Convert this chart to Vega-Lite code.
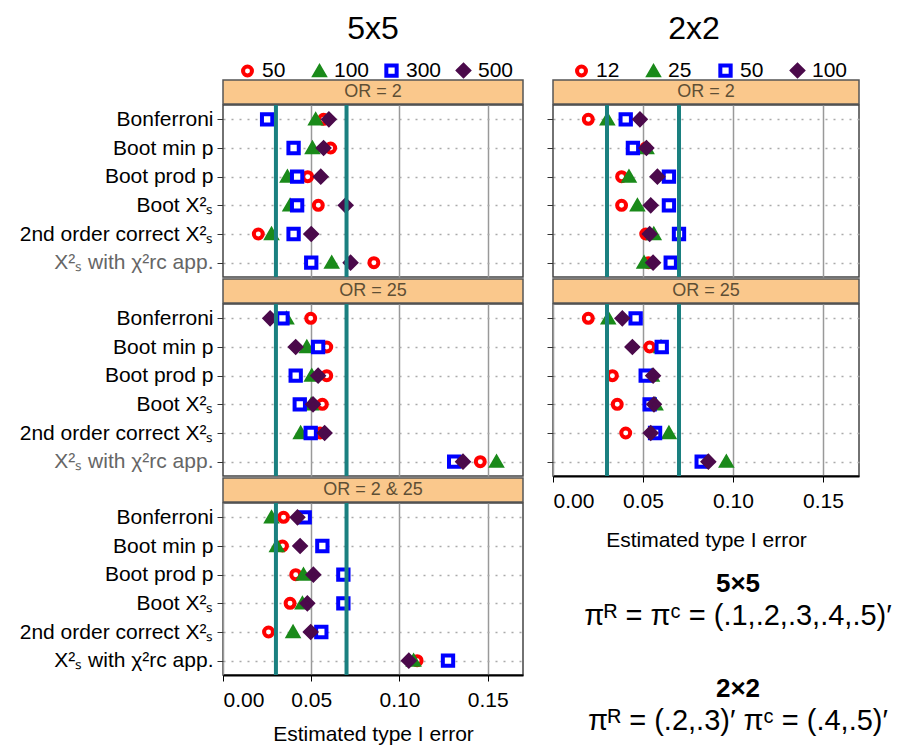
{
  "$schema": "https://vega.github.io/schema/vega-lite/v6.json",
  "background": "white",
  "padding": {"left": 18, "top": 13, "right": 0, "bottom": 0},
  "config": {
    "font": "Liberation Sans",
    "view": {"stroke": "#444", "strokeWidth": 1.5},
    "title": {"fontSize": 32, "fontWeight": "normal", "font": "Liberation Sans", "anchor": "middle", "frame": "group", "color": "black"},
    "legend": {"title": null, "direction": "horizontal", "gridAlign": "all", "labelFontSize": 21, "labelFont": "Liberation Sans", "labelColor": "black", "symbolStrokeWidth": 4, "columnPadding": 8, "labelOffset": 4, "padding": 0, "symbolOffset": 0},
    "axis": {"labelFont": "Liberation Sans", "titleFont": "Liberation Sans"}
  },
  "datasets": {
    "t5": [
      {"OR": "2", "method": "Bonferroni", "n": "50", "err": 0.057},
      {"OR": "2", "method": "Bonferroni", "n": "100", "err": 0.0525},
      {"OR": "2", "method": "Bonferroni", "n": "300", "err": 0.025},
      {"OR": "2", "method": "Bonferroni", "n": "500", "err": 0.060},
      {"OR": "2", "method": "Boot min p", "n": "50", "err": 0.061},
      {"OR": "2", "method": "Boot min p", "n": "100", "err": 0.0507},
      {"OR": "2", "method": "Boot min p", "n": "300", "err": 0.040},
      {"OR": "2", "method": "Boot min p", "n": "500", "err": 0.057},
      {"OR": "2", "method": "Boot prod p", "n": "50", "err": 0.048},
      {"OR": "2", "method": "Boot prod p", "n": "100", "err": 0.0365},
      {"OR": "2", "method": "Boot prod p", "n": "300", "err": 0.042},
      {"OR": "2", "method": "Boot prod p", "n": "500", "err": 0.0554},
      {"OR": "2", "method": "Boot X²ₛ", "n": "50", "err": 0.054},
      {"OR": "2", "method": "Boot X²ₛ", "n": "100", "err": 0.038},
      {"OR": "2", "method": "Boot X²ₛ", "n": "300", "err": 0.042},
      {"OR": "2", "method": "Boot X²ₛ", "n": "500", "err": 0.0695},
      {"OR": "2", "method": "2nd order correct X²ₛ", "n": "50", "err": 0.020},
      {"OR": "2", "method": "2nd order correct X²ₛ", "n": "100", "err": 0.0275},
      {"OR": "2", "method": "2nd order correct X²ₛ", "n": "300", "err": 0.040},
      {"OR": "2", "method": "2nd order correct X²ₛ", "n": "500", "err": 0.050},
      {"OR": "2", "method": "X²ₛ with χ²rc app.", "n": "50", "err": 0.0855},
      {"OR": "2", "method": "X²ₛ with χ²rc app.", "n": "100", "err": 0.0616},
      {"OR": "2", "method": "X²ₛ with χ²rc app.", "n": "300", "err": 0.050},
      {"OR": "2", "method": "X²ₛ with χ²rc app.", "n": "500", "err": 0.0723},
      {"OR": "25", "method": "Bonferroni", "n": "50", "err": 0.0497},
      {"OR": "25", "method": "Bonferroni", "n": "100", "err": 0.036},
      {"OR": "25", "method": "Bonferroni", "n": "300", "err": 0.0337},
      {"OR": "25", "method": "Bonferroni", "n": "500", "err": 0.0267},
      {"OR": "25", "method": "Boot min p", "n": "50", "err": 0.0588},
      {"OR": "25", "method": "Boot min p", "n": "100", "err": 0.0475},
      {"OR": "25", "method": "Boot min p", "n": "300", "err": 0.0539},
      {"OR": "25", "method": "Boot min p", "n": "500", "err": 0.0412},
      {"OR": "25", "method": "Boot prod p", "n": "50", "err": 0.0588},
      {"OR": "25", "method": "Boot prod p", "n": "100", "err": 0.0503},
      {"OR": "25", "method": "Boot prod p", "n": "300", "err": 0.0412},
      {"OR": "25", "method": "Boot prod p", "n": "500", "err": 0.0539},
      {"OR": "25", "method": "Boot X²ₛ", "n": "50", "err": 0.0563},
      {"OR": "25", "method": "Boot X²ₛ", "n": "100", "err": 0.050},
      {"OR": "25", "method": "Boot X²ₛ", "n": "300", "err": 0.0435},
      {"OR": "25", "method": "Boot X²ₛ", "n": "500", "err": 0.051},
      {"OR": "25", "method": "2nd order correct X²ₛ", "n": "50", "err": 0.055},
      {"OR": "25", "method": "2nd order correct X²ₛ", "n": "100", "err": 0.044},
      {"OR": "25", "method": "2nd order correct X²ₛ", "n": "300", "err": 0.0497},
      {"OR": "25", "method": "2nd order correct X²ₛ", "n": "500", "err": 0.0576},
      {"OR": "25", "method": "X²ₛ with χ²rc app.", "n": "50", "err": 0.1458},
      {"OR": "25", "method": "X²ₛ with χ²rc app.", "n": "100", "err": 0.155},
      {"OR": "25", "method": "X²ₛ with χ²rc app.", "n": "300", "err": 0.131},
      {"OR": "25", "method": "X²ₛ with χ²rc app.", "n": "500", "err": 0.136},
      {"OR": "2 & 25", "method": "Bonferroni", "n": "50", "err": 0.0343},
      {"OR": "2 & 25", "method": "Bonferroni", "n": "100", "err": 0.0275},
      {"OR": "2 & 25", "method": "Bonferroni", "n": "300", "err": 0.0463},
      {"OR": "2 & 25", "method": "Bonferroni", "n": "500", "err": 0.0422},
      {"OR": "2 & 25", "method": "Boot min p", "n": "50", "err": 0.0337},
      {"OR": "2 & 25", "method": "Boot min p", "n": "100", "err": 0.0305},
      {"OR": "2 & 25", "method": "Boot min p", "n": "300", "err": 0.0563},
      {"OR": "2 & 25", "method": "Boot min p", "n": "500", "err": 0.0437},
      {"OR": "2 & 25", "method": "Boot prod p", "n": "50", "err": 0.0412},
      {"OR": "2 & 25", "method": "Boot prod p", "n": "100", "err": 0.0456},
      {"OR": "2 & 25", "method": "Boot prod p", "n": "300", "err": 0.0682},
      {"OR": "2 & 25", "method": "Boot prod p", "n": "500", "err": 0.0512},
      {"OR": "2 & 25", "method": "Boot X²ₛ", "n": "50", "err": 0.038},
      {"OR": "2 & 25", "method": "Boot X²ₛ", "n": "100", "err": 0.045},
      {"OR": "2 & 25", "method": "Boot X²ₛ", "n": "300", "err": 0.0682},
      {"OR": "2 & 25", "method": "Boot X²ₛ", "n": "500", "err": 0.0478},
      {"OR": "2 & 25", "method": "2nd order correct X²ₛ", "n": "50", "err": 0.0258},
      {"OR": "2 & 25", "method": "2nd order correct X²ₛ", "n": "100", "err": 0.0397},
      {"OR": "2 & 25", "method": "2nd order correct X²ₛ", "n": "300", "err": 0.0557},
      {"OR": "2 & 25", "method": "2nd order correct X²ₛ", "n": "500", "err": 0.0497},
      {"OR": "2 & 25", "method": "X²ₛ with χ²rc app.", "n": "50", "err": 0.110},
      {"OR": "2 & 25", "method": "X²ₛ with χ²rc app.", "n": "100", "err": 0.108},
      {"OR": "2 & 25", "method": "X²ₛ with χ²rc app.", "n": "300", "err": 0.1275},
      {"OR": "2 & 25", "method": "X²ₛ with χ²rc app.", "n": "500", "err": 0.1053}
    ],
    "t2": [
      {"OR": "2", "method": "Bonferroni", "n": "12", "err": 0.0196},
      {"OR": "2", "method": "Bonferroni", "n": "25", "err": 0.0302},
      {"OR": "2", "method": "Bonferroni", "n": "50", "err": 0.0404},
      {"OR": "2", "method": "Bonferroni", "n": "100", "err": 0.0483},
      {"OR": "2", "method": "Boot min p", "n": "12", "err": 0.0515},
      {"OR": "2", "method": "Boot min p", "n": "25", "err": 0.052},
      {"OR": "2", "method": "Boot min p", "n": "50", "err": 0.0444},
      {"OR": "2", "method": "Boot min p", "n": "100", "err": 0.0519},
      {"OR": "2", "method": "Boot prod p", "n": "12", "err": 0.0381},
      {"OR": "2", "method": "Boot prod p", "n": "25", "err": 0.0422},
      {"OR": "2", "method": "Boot prod p", "n": "50", "err": 0.0644},
      {"OR": "2", "method": "Boot prod p", "n": "100", "err": 0.058},
      {"OR": "2", "method": "Boot X²ₛ", "n": "12", "err": 0.0381},
      {"OR": "2", "method": "Boot X²ₛ", "n": "25", "err": 0.0469},
      {"OR": "2", "method": "Boot X²ₛ", "n": "50", "err": 0.0644},
      {"OR": "2", "method": "Boot X²ₛ", "n": "100", "err": 0.0543},
      {"OR": "2", "method": "2nd order correct X²ₛ", "n": "12", "err": 0.0515},
      {"OR": "2", "method": "2nd order correct X²ₛ", "n": "25", "err": 0.056},
      {"OR": "2", "method": "2nd order correct X²ₛ", "n": "50", "err": 0.070},
      {"OR": "2", "method": "2nd order correct X²ₛ", "n": "100", "err": 0.0537},
      {"OR": "2", "method": "X²ₛ with χ²rc app.", "n": "12", "err": 0.053},
      {"OR": "2", "method": "X²ₛ with χ²rc app.", "n": "25", "err": 0.0506},
      {"OR": "2", "method": "X²ₛ with χ²rc app.", "n": "50", "err": 0.0654},
      {"OR": "2", "method": "X²ₛ with χ²rc app.", "n": "100", "err": 0.0556},
      {"OR": "25", "method": "Bonferroni", "n": "12", "err": 0.0196},
      {"OR": "25", "method": "Bonferroni", "n": "25", "err": 0.0307},
      {"OR": "25", "method": "Bonferroni", "n": "50", "err": 0.0459},
      {"OR": "25", "method": "Bonferroni", "n": "100", "err": 0.0385},
      {"OR": "25", "method": "Boot min p", "n": "12", "err": 0.0537},
      {"OR": "25", "method": "Boot min p", "n": "25", "err": 0.060},
      {"OR": "25", "method": "Boot min p", "n": "50", "err": 0.0604},
      {"OR": "25", "method": "Boot min p", "n": "100", "err": 0.0441},
      {"OR": "25", "method": "Boot prod p", "n": "12", "err": 0.033},
      {"OR": "25", "method": "Boot prod p", "n": "25", "err": 0.055},
      {"OR": "25", "method": "Boot prod p", "n": "50", "err": 0.0515},
      {"OR": "25", "method": "Boot prod p", "n": "100", "err": 0.0556},
      {"OR": "25", "method": "Boot X²ₛ", "n": "12", "err": 0.0357},
      {"OR": "25", "method": "Boot X²ₛ", "n": "25", "err": 0.057},
      {"OR": "25", "method": "Boot X²ₛ", "n": "50", "err": 0.0537},
      {"OR": "25", "method": "Boot X²ₛ", "n": "100", "err": 0.0561},
      {"OR": "25", "method": "2nd order correct X²ₛ", "n": "12", "err": 0.0404},
      {"OR": "25", "method": "2nd order correct X²ₛ", "n": "25", "err": 0.0644},
      {"OR": "25", "method": "2nd order correct X²ₛ", "n": "50", "err": 0.0567},
      {"OR": "25", "method": "2nd order correct X²ₛ", "n": "100", "err": 0.0543},
      {"OR": "25", "method": "X²ₛ with χ²rc app.", "n": "12", "err": 0.085},
      {"OR": "25", "method": "X²ₛ with χ²rc app.", "n": "25", "err": 0.0963},
      {"OR": "25", "method": "X²ₛ with χ²rc app.", "n": "50", "err": 0.0826},
      {"OR": "25", "method": "X²ₛ with χ²rc app.", "n": "100", "err": 0.0863}
    ],
    "limits": [{"limit": 0.03}, {"limit": 0.07}]
  },
  "hconcat": [
    {
      "title": {"text": "5x5", "offset": 14, "dx": 150},
      "spacing": 0,
      "vconcat": [
        {"spacing": -3, "vconcat": [
          {"width": 300, "height": 24, "view": {"fill": "#FAC88C", "stroke": "#555", "strokeWidth": 1.5}, "data": {"values": [{"label": "OR = 2"}]}, "mark": {"type": "text", "fontSize": 18, "color": "#5e4f35"}, "encoding": {"text": {"field": "label"}}},
          {"width": 300, "height": 172, "layer": [
            {"data": {"name": "t5"}, "transform": [{"filter": "datum.OR === '2'"}],
             "mark": {"type": "point", "filled": true, "strokeWidth": 4, "opacity": 1},
             "encoding": {
               "x": {"field": "err", "type": "quantitative", "scale": {"domain": [0, 0.17], "nice": false}, "axis": {"title": null, "labels": false, "ticks": false, "domain": false, "grid": true, "values": [0.05, 0.1, 0.15], "gridColor": "#999", "gridWidth": 1.5}},
               "y": {"field": "method", "type": "nominal", "sort": ["Bonferroni", "Boot min p", "Boot prod p", "Boot X²ₛ", "2nd order correct X²ₛ", "X²ₛ with χ²rc app."], "axis": {"title": null, "labelFontSize": 21, "labelColor": {"condition": {"test": "indexof(datum.value, 'with') >= 0", "value": "#666"}, "value": "black"}, "tickSize": 6, "tickColor": "#333", "domain": false, "grid": true, "gridDash": [2, 6], "gridColor": "#aaa", "gridWidth": 1.5, "labelPadding": 4, "labelLimit": 400}},
               "fill": {"field": "n", "type": "nominal", "scale": {"domain": ["50", "100", "300", "500"], "range": ["#ffffff", "#1a8a1a", "#ffffff", "#4b0a4b"]}, "legend": {"orient": "none", "legendX": 14, "legendY": -20}},
               "stroke": {"field": "n", "type": "nominal", "scale": {"domain": ["50", "100", "300", "500"], "range": ["#ff0000", "#1a8a1a", "#0000ff", "#4b0a4b"]}, "legend": {"orient": "none", "legendX": 14, "legendY": -20}},
               "shape": {"field": "n", "type": "nominal", "scale": {"domain": ["50", "100", "300", "500"], "range": ["circle", "triangle-up", "square", "diamond"]}, "legend": {"orient": "none", "legendX": 14, "legendY": -20}},
               "size": {"field": "n", "type": "nominal", "scale": {"domain": ["50", "100", "300", "500"], "range": [80, 120, 80, 120]}, "legend": {"orient": "none", "legendX": 14, "legendY": -20}}
             }},
            {"data": {"name": "limits"}, "mark": {"type": "rule", "color": "#1a8080", "strokeWidth": 4, "clip": true}, "encoding": {"x": {"field": "limit", "type": "quantitative"}}}
          ]}
        ]},
        {"spacing": -3, "vconcat": [
          {"width": 300, "height": 24, "view": {"fill": "#FAC88C", "stroke": "#555", "strokeWidth": 1.5}, "data": {"values": [{"label": "OR = 25"}]}, "mark": {"type": "text", "fontSize": 18, "color": "#5e4f35"}, "encoding": {"text": {"field": "label"}}},
          {"width": 300, "height": 172, "layer": [
            {"data": {"name": "t5"}, "transform": [{"filter": "datum.OR === '25'"}],
             "mark": {"type": "point", "filled": true, "strokeWidth": 4, "opacity": 1},
             "encoding": {
               "x": {"field": "err", "type": "quantitative", "scale": {"domain": [0, 0.17], "nice": false}, "axis": {"title": null, "labels": false, "ticks": false, "domain": false, "grid": true, "values": [0.05, 0.1, 0.15], "gridColor": "#999", "gridWidth": 1.5}},
               "y": {"field": "method", "type": "nominal", "sort": ["Bonferroni", "Boot min p", "Boot prod p", "Boot X²ₛ", "2nd order correct X²ₛ", "X²ₛ with χ²rc app."], "axis": {"title": null, "labelFontSize": 21, "labelColor": {"condition": {"test": "indexof(datum.value, 'with') >= 0", "value": "#666"}, "value": "black"}, "tickSize": 6, "tickColor": "#333", "domain": false, "grid": true, "gridDash": [2, 6], "gridColor": "#aaa", "gridWidth": 1.5, "labelPadding": 4, "labelLimit": 400}},
               "fill": {"field": "n", "type": "nominal", "scale": {"domain": ["50", "100", "300", "500"], "range": ["#ffffff", "#1a8a1a", "#ffffff", "#4b0a4b"]}, "legend": {"orient": "none", "legendX": 14, "legendY": -20}},
               "stroke": {"field": "n", "type": "nominal", "scale": {"domain": ["50", "100", "300", "500"], "range": ["#ff0000", "#1a8a1a", "#0000ff", "#4b0a4b"]}, "legend": {"orient": "none", "legendX": 14, "legendY": -20}},
               "shape": {"field": "n", "type": "nominal", "scale": {"domain": ["50", "100", "300", "500"], "range": ["circle", "triangle-up", "square", "diamond"]}, "legend": {"orient": "none", "legendX": 14, "legendY": -20}},
               "size": {"field": "n", "type": "nominal", "scale": {"domain": ["50", "100", "300", "500"], "range": [80, 120, 80, 120]}, "legend": {"orient": "none", "legendX": 14, "legendY": -20}}
             }},
            {"data": {"name": "limits"}, "mark": {"type": "rule", "color": "#1a8080", "strokeWidth": 4, "clip": true}, "encoding": {"x": {"field": "limit", "type": "quantitative"}}}
          ]}
        ]},
        {"spacing": -3, "vconcat": [
          {"width": 300, "height": 24, "view": {"fill": "#FAC88C", "stroke": "#555", "strokeWidth": 1.5}, "data": {"values": [{"label": "OR = 2 & 25"}]}, "mark": {"type": "text", "fontSize": 18, "color": "#5e4f35"}, "encoding": {"text": {"field": "label"}}},
          {"width": 300, "height": 172, "layer": [
            {"data": {"name": "t5"}, "transform": [{"filter": "datum.OR === '2 & 25'"}],
             "mark": {"type": "point", "filled": true, "strokeWidth": 4, "opacity": 1},
             "encoding": {
               "x": {"field": "err", "type": "quantitative", "scale": {"domain": [0, 0.17], "nice": false}, "axis": {"title": "Estimated type I error", "values": [0, 0.05, 0.1, 0.15], "format": ".2f", "labelFontSize": 21, "labelColor": "black", "titleFontSize": 21, "titleFontWeight": "normal", "titleColor": "black", "titlePadding": 13, "labelPadding": 8, "tickSize": 6, "tickColor": "black", "domainColor": "black", "domainWidth": 2, "grid": true, "gridColor": "#999", "gridWidth": 1.5}},
               "y": {"field": "method", "type": "nominal", "sort": ["Bonferroni", "Boot min p", "Boot prod p", "Boot X²ₛ", "2nd order correct X²ₛ", "X²ₛ with χ²rc app."], "axis": {"title": null, "labelFontSize": 21, "labelColor": "black", "tickSize": 6, "tickColor": "#333", "domain": false, "grid": true, "gridDash": [2, 6], "gridColor": "#aaa", "gridWidth": 1.5, "labelPadding": 4, "labelLimit": 400}},
               "fill": {"field": "n", "type": "nominal", "scale": {"domain": ["50", "100", "300", "500"], "range": ["#ffffff", "#1a8a1a", "#ffffff", "#4b0a4b"]}, "legend": {"orient": "none", "legendX": 14, "legendY": -20}},
               "stroke": {"field": "n", "type": "nominal", "scale": {"domain": ["50", "100", "300", "500"], "range": ["#ff0000", "#1a8a1a", "#0000ff", "#4b0a4b"]}, "legend": {"orient": "none", "legendX": 14, "legendY": -20}},
               "shape": {"field": "n", "type": "nominal", "scale": {"domain": ["50", "100", "300", "500"], "range": ["circle", "triangle-up", "square", "diamond"]}, "legend": {"orient": "none", "legendX": 14, "legendY": -20}},
               "size": {"field": "n", "type": "nominal", "scale": {"domain": ["50", "100", "300", "500"], "range": [80, 120, 80, 120]}, "legend": {"orient": "none", "legendX": 14, "legendY": -20}}
             }},
            {"data": {"name": "limits"}, "mark": {"type": "rule", "color": "#1a8080", "strokeWidth": 4, "clip": true}, "encoding": {"x": {"field": "limit", "type": "quantitative"}}}
          ]}
        ]}
      ]
    },
    {
      "title": {"text": "2x2", "offset": 14, "dx": 141},
      "spacing": 20,
      "vconcat": [
        {"spacing": 0, "vconcat": [
          {"spacing": -3, "vconcat": [
            {"width": 306, "height": 24, "view": {"fill": "#FAC88C", "stroke": "#555", "strokeWidth": 1.5}, "data": {"values": [{"label": "OR = 2"}]}, "mark": {"type": "text", "fontSize": 18, "color": "#5e4f35"}, "encoding": {"text": {"field": "label"}}},
            {"width": 306, "height": 172, "layer": [
              {"data": {"name": "t2"}, "transform": [{"filter": "datum.OR === '2'"}],
               "mark": {"type": "point", "filled": true, "strokeWidth": 4, "opacity": 1},
               "encoding": {
                 "x": {"field": "err", "type": "quantitative", "scale": {"domain": [0, 0.17], "nice": false}, "axis": {"title": null, "labels": false, "ticks": false, "domain": false, "grid": true, "values": [0.05, 0.1, 0.15], "gridColor": "#999", "gridWidth": 1.5}},
                 "y": {"field": "method", "type": "nominal", "sort": ["Bonferroni", "Boot min p", "Boot prod p", "Boot X²ₛ", "2nd order correct X²ₛ", "X²ₛ with χ²rc app."], "axis": {"title": null, "labels": false, "tickSize": 6, "tickColor": "#333", "domain": false, "grid": true, "gridDash": [2, 6], "gridColor": "#aaa", "gridWidth": 1.5}},
                 "fill": {"field": "n", "type": "nominal", "scale": {"domain": ["12", "25", "50", "100"], "range": ["#ffffff", "#1a8a1a", "#ffffff", "#4b0a4b"]}, "legend": {"orient": "none", "legendX": 18, "legendY": -20}},
                 "stroke": {"field": "n", "type": "nominal", "scale": {"domain": ["12", "25", "50", "100"], "range": ["#ff0000", "#1a8a1a", "#0000ff", "#4b0a4b"]}, "legend": {"orient": "none", "legendX": 18, "legendY": -20}},
                 "shape": {"field": "n", "type": "nominal", "scale": {"domain": ["12", "25", "50", "100"], "range": ["circle", "triangle-up", "square", "diamond"]}, "legend": {"orient": "none", "legendX": 18, "legendY": -20}},
                 "size": {"field": "n", "type": "nominal", "scale": {"domain": ["12", "25", "50", "100"], "range": [80, 120, 80, 120]}, "legend": {"orient": "none", "legendX": 18, "legendY": -20}}
               }},
              {"data": {"name": "limits"}, "mark": {"type": "rule", "color": "#1a8080", "strokeWidth": 4, "clip": true}, "encoding": {"x": {"field": "limit", "type": "quantitative"}}}
            ]}
          ]},
          {"spacing": -3, "vconcat": [
            {"width": 306, "height": 24, "view": {"fill": "#FAC88C", "stroke": "#555", "strokeWidth": 1.5}, "data": {"values": [{"label": "OR = 25"}]}, "mark": {"type": "text", "fontSize": 18, "color": "#5e4f35"}, "encoding": {"text": {"field": "label"}}},
            {"width": 306, "height": 172, "layer": [
              {"data": {"name": "t2"}, "transform": [{"filter": "datum.OR === '25'"}],
               "mark": {"type": "point", "filled": true, "strokeWidth": 4, "opacity": 1},
               "encoding": {
                 "x": {"field": "err", "type": "quantitative", "scale": {"domain": [0, 0.17], "nice": false}, "axis": {"title": "Estimated type I error", "values": [0, 0.05, 0.1, 0.15], "format": ".2f", "labelFontSize": 21, "labelColor": "black", "titleFontSize": 21, "titleFontWeight": "normal", "titleColor": "black", "titlePadding": 18, "labelPadding": 8, "tickSize": 6, "tickColor": "black", "domainColor": "black", "domainWidth": 2, "grid": true, "gridColor": "#999", "gridWidth": 1.5}},
                 "y": {"field": "method", "type": "nominal", "sort": ["Bonferroni", "Boot min p", "Boot prod p", "Boot X²ₛ", "2nd order correct X²ₛ", "X²ₛ with χ²rc app."], "axis": {"title": null, "labels": false, "tickSize": 6, "tickColor": "#333", "domain": false, "grid": true, "gridDash": [2, 6], "gridColor": "#aaa", "gridWidth": 1.5}},
                 "fill": {"field": "n", "type": "nominal", "scale": {"domain": ["12", "25", "50", "100"], "range": ["#ffffff", "#1a8a1a", "#ffffff", "#4b0a4b"]}, "legend": {"orient": "none", "legendX": 18, "legendY": -20}},
                 "stroke": {"field": "n", "type": "nominal", "scale": {"domain": ["12", "25", "50", "100"], "range": ["#ff0000", "#1a8a1a", "#0000ff", "#4b0a4b"]}, "legend": {"orient": "none", "legendX": 18, "legendY": -20}},
                 "shape": {"field": "n", "type": "nominal", "scale": {"domain": ["12", "25", "50", "100"], "range": ["circle", "triangle-up", "square", "diamond"]}, "legend": {"orient": "none", "legendX": 18, "legendY": -20}},
                 "size": {"field": "n", "type": "nominal", "scale": {"domain": ["12", "25", "50", "100"], "range": [80, 120, 80, 120]}, "legend": {"orient": "none", "legendX": 18, "legendY": -20}}
               }},
              {"data": {"name": "limits"}, "mark": {"type": "rule", "color": "#1a8080", "strokeWidth": 4, "clip": true}, "encoding": {"x": {"field": "limit", "type": "quantitative"}}}
            ]}
          ]}
        ]},
        {"spacing": 45, "vconcat": [
          {"width": 370, "height": 30, "view": {"stroke": null}, "title": {"text": "5×5", "fontSize": 26, "fontWeight": "bold", "offset": 4, "dx": 0}, "data": {"values": [{"formula": "πᴿ  =  πᶜ  =  (.1,.2,.3,.4,.5)′"}]}, "mark": {"type": "text", "fontSize": 29, "color": "black"}, "encoding": {"text": {"field": "formula"}}},
          {"width": 370, "height": 30, "view": {"stroke": null}, "title": {"text": "2×2", "fontSize": 26, "fontWeight": "bold", "offset": 4, "dx": 0}, "data": {"values": [{"formula": "πᴿ  =  (.2,.3)′   πᶜ  =  (.4,.5)′"}]}, "mark": {"type": "text", "fontSize": 29, "color": "black"}, "encoding": {"text": {"field": "formula"}}}
        ]}
      ]
    }
  ],
  "spacing": 21,
  "resolve": {"scale": {"fill": "independent", "stroke": "independent", "shape": "independent", "size": "independent"}, "legend": {"fill": "independent", "stroke": "independent", "shape": "independent", "size": "independent"}}
}
